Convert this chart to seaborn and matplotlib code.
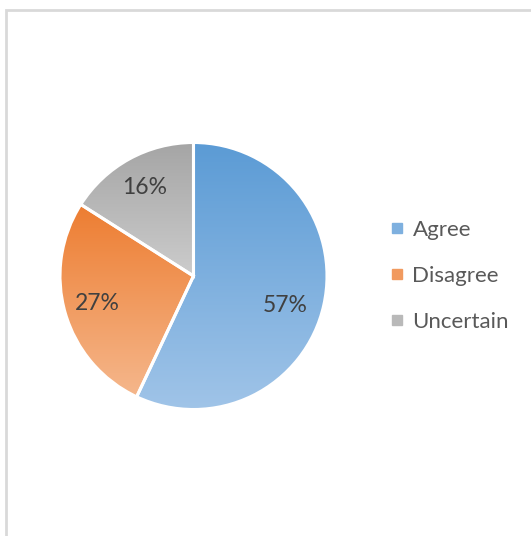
import numpy as np
import matplotlib
matplotlib.use("Agg")
import matplotlib.pyplot as plt
from matplotlib.colors import to_rgba
from matplotlib.lines import Line2D
from matplotlib.patches import Rectangle
import seaborn as sns

# Survey responses
categories = ["Agree", "Disagree", "Uncertain"]
shares = [57, 27, 16]

# Gradient end colours per slice (top -> bottom)
top_colors = ["#5B9BD5", "#ED7D31", "#A5A5A5"]
bottom_colors = ["#A0C4E8", "#F5B78C", "#CCCCCC"]

sns.set_theme(style="white")
plt.rcParams["font.family"] = ["Lato", "DejaVu Sans"]

W, H = 531, 536
fig = plt.figure(figsize=(W / 100, H / 100), dpi=100)
fig.patch.set_facecolor("white")

# Chart frame (top and left edges visible)
fig.patches.append(Rectangle((6 / W, -0.1), 1.2, (H - 10) / H + 0.1,
                             transform=fig.transFigure, fill=False,
                             edgecolor="#D9D9D9", linewidth=2.0, zorder=0))

pad = 1.02
cx, cy, r = 193.5, 276, 133.5
R = r * pad
ax = fig.add_axes([(cx - R) / W, (H - cy - R) / H, 2 * R / W, 2 * R / H])
ax.set_aspect("equal")
ax.axis("off")

palette = sns.color_palette(top_colors)
wedges, texts, autotexts = ax.pie(
    shares, colors=palette, startangle=90, counterclock=False,
    autopct=lambda p: f"{p:.0f}%", pctdistance=0.74,
    wedgeprops=dict(edgecolor="white", linewidth=2.2),
    textprops=dict(color="#404040", fontsize=16.5),
)

# Place each percentage label along its slice's bisector (small angular nudge)
label_r = [0.72, 0.75, 0.76]
label_shift = [-5, 0, 0]
for w, txt, lr, sh in zip(wedges, autotexts, label_r, label_shift):
    ang = np.deg2rad((w.theta1 + w.theta2) / 2 + sh)
    txt.set_position((lr * np.cos(ang), lr * np.sin(ang)))

for w, c0, c1 in zip(wedges, top_colors, bottom_colors):
    ext = w.get_path().get_extents()
    n = 256
    t = np.linspace(0, 1, n)[:, None]
    a, b = np.array(to_rgba(c0)), np.array(to_rgba(c1))
    grad = (a * (1 - t) + b * t)[:, None, :]
    im = ax.imshow(grad, extent=[ext.x0, ext.x1, ext.y0, ext.y1],
                   origin="upper", aspect="auto", zorder=1.5,
                   interpolation="bilinear")
    im.set_clip_path(w)
    w.set_facecolor("none")
    w.set_zorder(2)

for t in autotexts:
    t.set_zorder(3)

ax.set_xlim(-pad, pad)
ax.set_ylim(-pad, pad)

mid_colors = [tuple((np.array(to_rgba(a)) + np.array(to_rgba(b))) / 2)
              for a, b in zip(top_colors, bottom_colors)]
handles = [Line2D([0], [0], marker="s", linestyle="none", markersize=6.5,
                  markerfacecolor=c, markeredgecolor=c) for c in mid_colors]
fig.legend(handles, categories, loc="center left",
           bbox_to_anchor=(368 / W, 1 - 276 / H), frameon=False,
           fontsize=16, labelcolor="#595959", handletextpad=0.3,
           labelspacing=1.16, handlelength=0.8)

fig.savefig("out.png", dpi=100, facecolor="white")
